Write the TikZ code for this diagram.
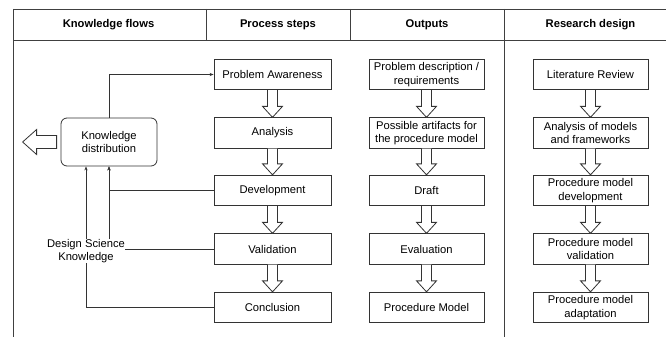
\documentclass[tikz,border=0pt]{standalone}
\usepackage{fontspec}
\setmainfont{Liberation Sans}
\usetikzlibrary{arrows.meta,calc}
\tikzset{
  txt/.style={font=\fontsize{11.2}{13.4}\selectfont, align=center},
  hdr/.style={font=\fontsize{11.2}{13.4}\selectfont\bfseries, align=center},
  stepbox/.style={draw=black!80, line width=0.8pt, fill=white, minimum height=30.5pt, inner sep=1pt, txt},
  pbox/.style={stepbox, minimum width=117pt},
  obox/.style={stepbox, minimum width=115pt},
  kbox/.style={draw=black!80, line width=0.8pt, rounded corners=6pt, minimum width=96pt, minimum height=48pt, txt},
  hollow/.style={draw=black!80, line width=0.8pt, fill=white, line join=miter},
  conn/.style={draw=black!80, line width=0.7pt, -{Stealth[length=4pt,width=3.2pt]}},
  plain/.style={draw=black!80, line width=0.7pt},
  grid/.style={draw=black!75, line width=0.8pt}
}
\newcommand{\hollowdown}[2]{%
  \path[hollow] let \p1=(#1.south), \p2=(#2.north) in
    (\x1-5pt,\y1) -- (\x1-5pt,\y2+11pt) -- (\x1-10pt,\y2+11pt) -- (\x1,\y2)
    -- (\x1+10pt,\y2+11pt) -- (\x1+5pt,\y2+11pt) -- (\x1+5pt,\y1);}
\begin{document}
\begin{tikzpicture}[x=1pt,y=-1pt]
\useasboundingbox (0,0) rectangle (666,337);
% table
\coordinate (tl) at (13,9);
\coordinate (tr) at (666,9);
\coordinate (hl) at (13,40);
\coordinate (hr) at (666,40);
\coordinate (bl) at (13,337);
\coordinate (v1t) at (206,9);
\coordinate (v1b) at (206,40);
\coordinate (v2t) at (350,9);
\coordinate (v2b) at (350,40);
\coordinate (v3t) at (504,9);
\coordinate (v3b) at (504,337);
\draw[grid] (tl) -- (tr);
\draw[grid] (hl) -- (hr);
\draw[grid] (tl) -- (bl);
\draw[grid] (v1t) -- (v1b);
\draw[grid] (v2t) -- (v2b);
\draw[grid] (v3t) -- (v3b);
% headers
\node[hdr] (h1) at (108.5,25) {Knowledge flows};
\node[hdr] (h2) at (278,25) {Process steps};
\node[hdr] (h3) at (427,25) {Outputs};
\node[hdr] (h4) at (590.5,25) {Research design};
% process steps
\node[pbox] (pa) at (272.5,74.5) {Problem Awareness};
\node[pbox] (an) at (272.5,133) {Analysis};
\node[pbox] (dev) at (272.5,190.5) {Development};
\node[pbox] (val) at (272.5,249) {Validation};
\node[pbox] (con) at (272.5,307.5) {Conclusion};
% outputs
\node[obox] (o1) at (426.5,74.5) {Problem description /\\requirements};
\node[obox] (o2) at (426.5,133) {Possible artifacts for\\the procedure model};
\node[obox] (o3) at (426.5,190.5) {Draft};
\node[obox] (o4) at (426.5,249) {Evaluation};
\node[obox] (o5) at (426.5,307.5) {Procedure Model};
% research design
\node[obox] (r1) at (590.5,74.5) {Literature Review};
\node[obox] (r2) at (590.5,133) {Analysis of models\\and frameworks};
\node[obox] (r3) at (590.5,190.5) {Procedure model\\development};
\node[obox] (r4) at (590.5,249) {Procedure model\\validation};
\node[obox] (r5) at (590.5,307.5) {Procedure model\\adaptation};
% hollow arrows
\hollowdown{pa}{an}
\hollowdown{an}{dev}
\hollowdown{dev}{val}
\hollowdown{val}{con}
\hollowdown{o1}{o2}
\hollowdown{o2}{o3}
\hollowdown{o3}{o4}
\hollowdown{o4}{o5}
\hollowdown{r1}{r2}
\hollowdown{r2}{r3}
\hollowdown{r3}{r4}
\hollowdown{r4}{r5}
% knowledge distribution
\node[kbox] (kd) at (109,142) {Knowledge\\distribution};
\path[hollow] let \p1=(kd.west) in
  (\x1-4pt,\y1+6.5pt) -- (\x1-24pt,\y1+6.5pt) -- (\x1-24pt,\y1+12.5pt) -- (\x1-38pt,\y1)
  -- (\x1-24pt,\y1-12.5pt) -- (\x1-24pt,\y1-6.5pt) -- (\x1-4pt,\y1-6.5pt) -- cycle;
% connectors
\coordinate (kd2) at ([xshift=-23pt]kd.south);
\draw[conn] (kd.north) |- (pa.west);
\draw[conn] (dev.west) -| (kd.south);
\draw[conn] (val.west) -| (kd.south);
\draw[conn] (con.west) -| (kd2);
\node[txt, fill=white, inner sep=0.5pt] (dsk) at (86,251) {Design Science\\Knowledge};
\end{tikzpicture}
\end{document}
